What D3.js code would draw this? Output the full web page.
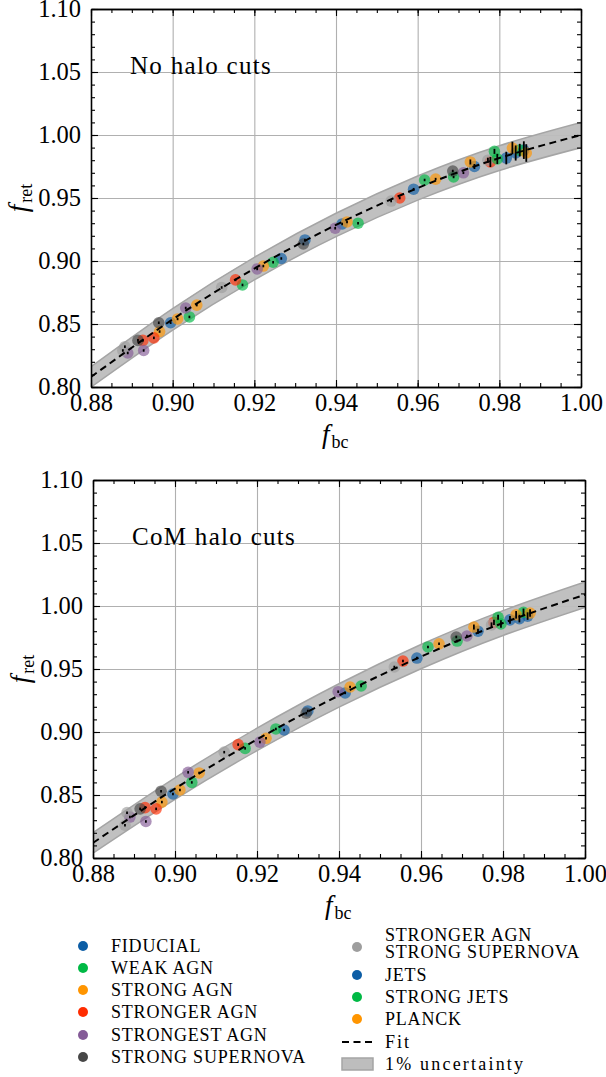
<!DOCTYPE html>
<html>
<head>
<meta charset="utf-8">
<script src="https://cdn.jsdelivr.net/npm/d3@7"></script>
<style>
  body { margin: 0; background: #fff; }
  svg text { font-family: "Liberation Serif", "DejaVu Serif", serif; fill: #000; }
</style>
</head>
<body>
<svg id="chart" width="606" height="1077" font-family="Liberation Serif"></svg>
<script>
// models and colours (legend order)
const modelNames = ["FIDUCIAL", "WEAK AGN", "STRONG AGN", "STRONGER AGN", "STRONGEST AGN",
  "STRONG SUPERNOVA", "STRONGER AGN|STRONG SUPERNOVA", "JETS", "STRONG JETS", "PLANCK"];
const modelColors = ["#0C5DA5", "#00B945", "#FF9500", "#FF2C00", "#845B97",
  "#474747", "#9e9e9e", "#0C5DA5", "#00B945", "#FF9500"];

// baryon fraction of each point, per model (same in both panels)
const fbc = [
  [0.8995, 0.9266, 0.9324, 0.9415, 0.9590, 0.9739],
  [0.9041, 0.9171, 0.9246, 0.9454, 0.9617, 0.9688],
  [0.8968, 0.9012, 0.9059, 0.9222, 0.9427, 0.9644, 0.9729],
  [0.8927, 0.8954, 0.9154, 0.9556, 0.9778],
  [0.8890, 0.8929, 0.9032, 0.9207, 0.9398, 0.9712],
  [0.8915, 0.8966, 0.9320, 0.9686],
  [0.8878, 0.8883, 0.9120, 0.9535, 0.9772],
  [0.9817, 0.9840, 0.9860],
  [0.9788, 0.9795, 0.9850],
  [0.9832, 0.9866]
];
// retained fraction, no halo cuts
const fretNoCuts = [
  [0.851, 0.902, 0.9167, 0.9294, 0.957, 0.975],
  [0.8556, 0.881, 0.899, 0.930, 0.9643, 0.9667],
  [0.844, 0.854, 0.865, 0.896, 0.931, 0.965, 0.9786],
  [0.837, 0.839, 0.885, 0.950, 0.9786],
  [0.827, 0.829, 0.8627, 0.8937, 0.926, 0.970],
  [0.837, 0.851, 0.9135, 0.9714],
  [0.829, 0.832, 0.879, 0.9476, 0.980],
  [0.9817, 0.9857, 0.988],
  [0.987, 0.981, 0.988],
  [0.9897, 0.9857]
];
const errNoCuts = [
  [0.001, 0.001, 0.001, 0.001, 0.001, 0.002],
  [0.001, 0.001, 0.001, 0.001, 0.001, 0.001],
  [0.001, 0.001, 0.001, 0.001, 0.001, 0.001, 0.002],
  [0.001, 0.001, 0.001, 0.001, 0.004],
  [0.001, 0.001, 0.001, 0.001, 0.001, 0.001],
  [0.001, 0.001, 0.001, 0.001],
  [0.001, 0.001, 0.001, 0.001, 0.002],
  [0.005, 0.006, 0.007],
  [0.002, 0.004, 0.005],
  [0.005, 0.007]
];
// retained fraction, CoM halo cuts
const fretCoM = [
  [0.8508, 0.9016, 0.9167, 0.931, 0.9587, 0.980],
  [0.860, 0.887, 0.9024, 0.9365, 0.9675, 0.9722],
  [0.8444, 0.854, 0.8675, 0.895, 0.9357, 0.970, 0.9833],
  [0.840, 0.839, 0.890, 0.9563, 0.987],
  [0.8325, 0.829, 0.868, 0.892, 0.932, 0.9762],
  [0.839, 0.853, 0.915, 0.9754],
  [0.826, 0.836, 0.884, 0.9516, 0.985],
  [0.989, 0.990, 0.992],
  [0.991, 0.9857, 0.995],
  [0.993, 0.9944]
];
const errCoM = [
  [0.001, 0.001, 0.001, 0.001, 0.001, 0.002],
  [0.001, 0.001, 0.001, 0.001, 0.001, 0.001],
  [0.001, 0.001, 0.001, 0.001, 0.001, 0.001, 0.002],
  [0.001, 0.001, 0.001, 0.001, 0.002],
  [0.001, 0.001, 0.001, 0.001, 0.001, 0.001],
  [0.001, 0.001, 0.001, 0.001],
  [0.001, 0.001, 0.001, 0.001, 0.002],
  [0.003, 0.003, 0.003],
  [0.002, 0.003, 0.003],
  [0.003, 0.003]
];

// fit curves
const fitX = [0.88, 0.90, 0.92, 0.94, 0.96, 0.98, 1.00];
const fitNoCuts = [0.808, 0.8537, 0.8940, 0.9286, 0.9579, 0.9817, 1.000];
const fitCoM = [0.812, 0.8551, 0.8941, 0.929, 0.9598, 0.9865, 1.009];
const uncertainty = 0.01;

const xTicks = [0.88, 0.90, 0.92, 0.94, 0.96, 0.98, 1.00];
const yTicks = [0.80, 0.85, 0.90, 0.95, 1.00, 1.05, 1.10];

const svg = d3.select("#chart");
const serif = "Liberation Serif";

function drawPanel(box, fret, err, fitY, label) {
  let g = svg.append("g");
  let x = d3.scaleLinear().domain([0.88, 1.00]).range([box.left, box.right]);
  let y = d3.scaleLinear().domain([0.80, 1.10]).range([box.bottom, box.top]);
  let w = box.right - box.left, h = box.bottom - box.top;
  let xMinor = d3.range(0.88, 1.0001, 0.005);
  let yMinor = d3.range(0.80, 1.1001, 0.01);

  // grid
  g.append("g").attr("transform", `translate(0,${box.bottom})`)
    .call(d3.axisBottom(x).tickValues(xTicks).tickSize(-h).tickFormat(""))
    .call(a => a.select(".domain").remove())
    .call(a => a.selectAll("line").attr("stroke", "#b0b0b0").attr("stroke-width", 1.1));
  g.append("g").attr("transform", `translate(${box.left},0)`)
    .call(d3.axisLeft(y).tickValues(yTicks).tickSize(-w).tickFormat(""))
    .call(a => a.select(".domain").remove())
    .call(a => a.selectAll("line").attr("stroke", "#b0b0b0").attr("stroke-width", 1.1));

  // uncertainty band
  let idx = d3.range(fitX.length);
  let clip = "clip" + label.replace(/\s/g, "");
  g.append("clipPath").attr("id", clip).append("rect")
    .attr("x", box.left).attr("y", box.top).attr("width", w).attr("height", h);
  let band = d3.area().curve(d3.curveNatural)
    .x(i => x(fitX[i]))
    .y0(i => y(fitY[i] * (1 - uncertainty)))
    .y1(i => y(fitY[i] * (1 + uncertainty)));
  g.append("path").datum(idx).attr("d", band)
    .attr("clip-path", `url(#${clip})`)
    .attr("fill", "#bdbdbd").attr("fill-opacity", 0.95)
    .attr("stroke", "#a5a5a5").attr("stroke-width", 1.5);

  // points
  let pts = [];
  fbc.forEach((xs, m) => xs.forEach((v, i) => pts.push({ m, x: v, y: fret[m][i], e: err[m][i] })));
  g.append("g").selectAll("circle").data(pts).join("circle")
    .attr("cx", d => x(d.x)).attr("cy", d => y(d.y)).attr("r", 5.8)
    .attr("fill", d => modelColors[d.m]).attr("fill-opacity", 0.66);
  g.append("g").selectAll("line").data(pts).join("line")
    .attr("x1", d => x(d.x)).attr("x2", d => x(d.x))
    .attr("y1", d => y(d.y - d.e)).attr("y2", d => y(d.y + d.e))
    .attr("stroke", "#000").attr("stroke-width", 1.8);

  // fit
  let line = d3.line().curve(d3.curveNatural).x(i => x(fitX[i])).y(i => y(fitY[i]));
  g.append("path").datum(idx).attr("d", line)
    .attr("clip-path", `url(#${clip})`)
    .attr("fill", "none").attr("stroke", "#000").attr("stroke-width", 2)
    .attr("stroke-dasharray", "7,4.5");

  // axes with inward ticks
  let styleAxis = a => {
    a.attr("font-family", serif);
    a.select(".domain").attr("stroke", "#000").attr("stroke-width", 1.3);
    a.selectAll(".tick line").attr("stroke", "#000").attr("stroke-width", 1.1);
    a.selectAll("text").attr("font-size", 24.5).attr("font-family", serif);
  };
  g.append("g").attr("transform", `translate(0,${box.bottom})`)
    .call(d3.axisBottom(x).tickValues(xMinor).tickSize(-4).tickFormat("").tickSizeOuter(0)).call(styleAxis);
  g.append("g").attr("transform", `translate(0,${box.top})`)
    .call(d3.axisTop(x).tickValues(xMinor).tickSize(-4).tickFormat("").tickSizeOuter(0)).call(styleAxis);
  g.append("g").attr("transform", `translate(${box.left},0)`)
    .call(d3.axisLeft(y).tickValues(yMinor).tickSize(-4).tickFormat("").tickSizeOuter(0)).call(styleAxis);
  g.append("g").attr("transform", `translate(${box.right},0)`)
    .call(d3.axisRight(y).tickValues(yMinor).tickSize(-4).tickFormat("").tickSizeOuter(0)).call(styleAxis);

  g.append("g").attr("transform", `translate(0,${box.bottom})`)
    .call(d3.axisBottom(x).tickValues(xTicks).tickSize(-7).tickPadding(7).tickSizeOuter(0).tickFormat(d3.format(".2f"))).call(styleAxis);
  g.append("g").attr("transform", `translate(0,${box.top})`)
    .call(d3.axisTop(x).tickValues(xTicks).tickSize(-7).tickFormat("").tickSizeOuter(0)).call(styleAxis);
  g.append("g").attr("transform", `translate(${box.left},0)`)
    .call(d3.axisLeft(y).tickValues(yTicks).tickSize(-7).tickPadding(10).tickSizeOuter(0).tickFormat(d3.format(".2f"))).call(styleAxis);
  g.append("g").attr("transform", `translate(${box.right},0)`)
    .call(d3.axisRight(y).tickValues(yTicks).tickSize(-7).tickFormat("").tickSizeOuter(0)).call(styleAxis);

  // labels
  g.append("text").attr("x", box.left + 39).attr("y", box.top + 65)
    .attr("font-size", 25).attr("letter-spacing", 1.3).text(label);

  let xl = g.append("text").attr("x", (box.left + box.right) / 2 - 14).attr("y", box.bottom + 56)
    .attr("font-size", 27);
  xl.append("tspan").attr("font-style", "italic").text("f");
  xl.append("tspan").attr("font-size", 18).attr("dy", 5).attr("dx", 2).text("bc");

  let yl = g.append("text")
    .attr("transform", `translate(${box.left - 64},${(box.top + box.bottom) / 2}) rotate(-90)`)
    .attr("text-anchor", "middle").attr("font-size", 27);
  yl.append("tspan").attr("font-style", "italic").text("f");
  yl.append("tspan").attr("font-size", 18).attr("dy", 5).attr("dx", 2).text("ret");
}

drawPanel({ left: 91, right: 581, top: 9, bottom: 387 }, fretNoCuts, errNoCuts, fitNoCuts, "No halo cuts");
drawPanel({ left: 93, right: 585, top: 480, bottom: 858 }, fretCoM, errCoM, fitCoM, "CoM halo cuts");

// legend
const legend = svg.append("g").attr("font-size", 18).attr("font-family", serif);
const leftRows = [0, 1, 2, 3, 4, 5];
const leftY = [946, 968, 990, 1012, 1035, 1057];
leftRows.forEach((m, i) => {
  legend.append("circle").attr("cx", 83).attr("cy", leftY[i]).attr("r", 5).attr("fill", modelColors[m]);
  legend.append("text").attr("x", 111).attr("y", leftY[i]).attr("dy", "0.35em")
    .attr("letter-spacing", 0.8).text(modelNames[m]);
});
const rightRows = [6, 7, 8, 9];
const rightY = [947, 975, 997, 1019];
rightRows.forEach((m, i) => {
  legend.append("circle").attr("cx", 357).attr("cy", rightY[i]).attr("r", 5).attr("fill", modelColors[m]);
  let parts = modelNames[m].split("|");
  if (parts.length === 1) {
    legend.append("text").attr("x", 385).attr("y", rightY[i]).attr("dy", "0.35em")
      .attr("letter-spacing", 0.8).text(parts[0]);
  } else {
    legend.append("text").attr("x", 385).attr("y", rightY[i] - 6).attr("letter-spacing", 0.8).text(parts[0]);
    legend.append("text").attr("x", 385).attr("y", rightY[i] + 11).attr("letter-spacing", 0.8).text(parts[1]);
  }
});
legend.append("line").attr("x1", 342).attr("x2", 373).attr("y1", 1042).attr("y2", 1042)
  .attr("stroke", "#000").attr("stroke-width", 2).attr("stroke-dasharray", "7,4.5");
legend.append("text").attr("x", 385).attr("y", 1042).attr("dy", "0.35em")
  .attr("letter-spacing", 2).text("Fit");
legend.append("rect").attr("x", 342).attr("y", 1058).attr("width", 31).attr("height", 12)
  .attr("fill", "#bdbdbd").attr("stroke", "#a5a5a5").attr("stroke-width", 1.5);
legend.append("text").attr("x", 385).attr("y", 1064).attr("dy", "0.35em")
  .attr("letter-spacing", 2.2).text("1% uncertainty");
</script>
</body>
</html>
